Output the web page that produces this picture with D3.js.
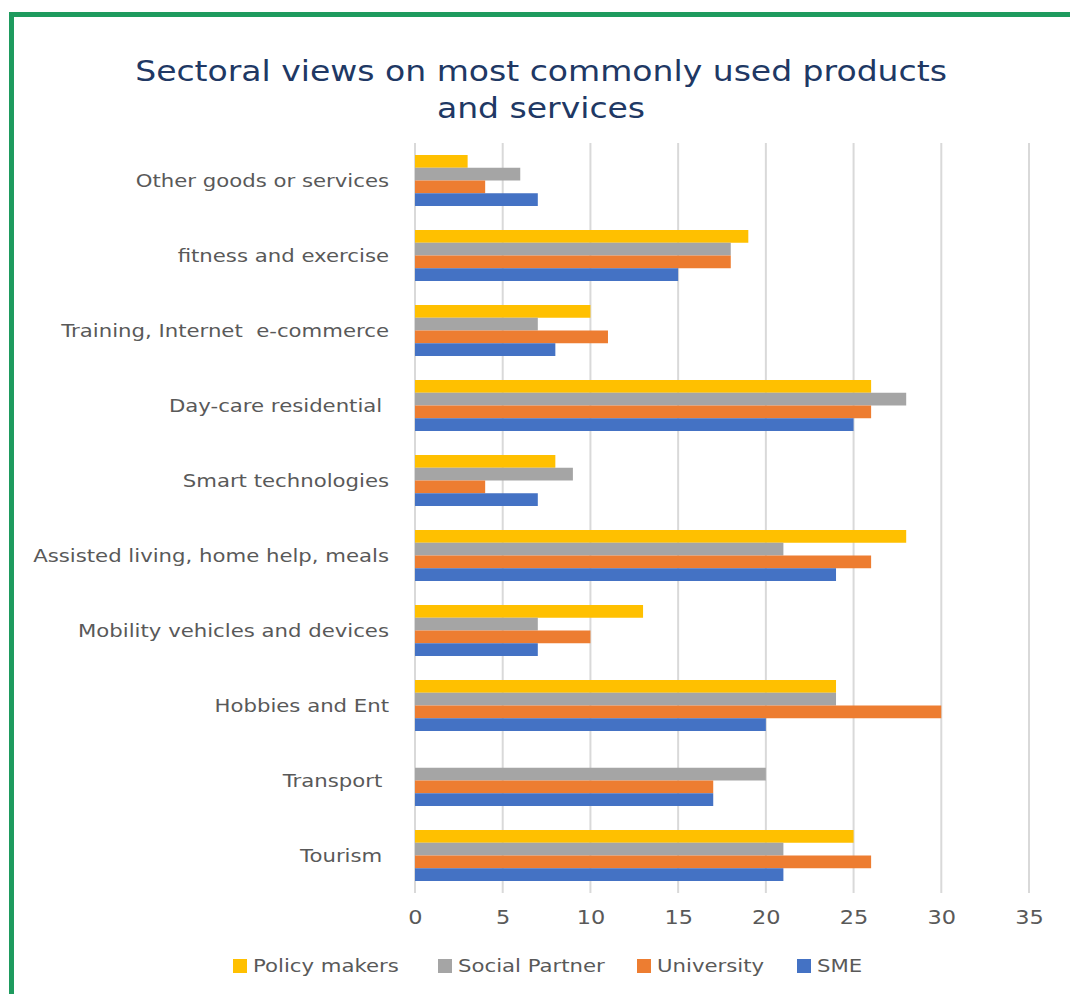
<!DOCTYPE html>
<html>
<head>
<meta charset="utf-8">
<script src="https://cdn.jsdelivr.net/npm/d3@7"></script>
<style>
  html, body { margin: 0; padding: 0; background: #fff; }
  svg { display: block; }
  text { font-family: "DejaVu Sans", sans-serif; }
</style>
</head>
<body>
<svg id="chart" width="1070" height="994"></svg>
<script>
// ---- data ----
const categories = [
  "Other goods or services",
  "fitness and exercise",
  "Training, Internet  e-commerce",
  "Day-care residential ",
  "Smart technologies",
  "Assisted living, home help, meals",
  "Mobility vehicles and devices",
  "Hobbies and Ent",
  "Transport ",
  "Tourism "
];
const seriesNames = ["Policy makers", "Social Partner", "University", "SME"];
const policyMakers  = [3, 19, 10, 26, 8, 28, 13, 24, 0, 25];
const socialPartner = [6, 18, 7, 28, 9, 21, 7, 24, 20, 21];
const university    = [4, 18, 11, 26, 4, 26, 10, 30, 17, 26];
const sme           = [7, 15, 8, 25, 7, 24, 7, 20, 17, 21];
const seriesColors  = ["#FFC000", "#A5A5A5", "#ED7D31", "#4472C4"];
const xTicks = [0, 5, 10, 15, 20, 25, 30, 35];
const titleLines = ["Sectoral views on most commonly used products", "and services"];

const seriesValues = [policyMakers, socialPartner, university, sme];
const SX = 1.18; // horizontal stretch of the reference's text

const svg = d3.select("#chart");
svg.append("rect").attr("width", 1070).attr("height", 994).attr("fill", "#fff");

// green frame (top and left edges visible)
svg.append("rect").attr("x", 9).attr("y", 12).attr("width", 1061).attr("height", 5).attr("fill", "#1E9B5E");
svg.append("rect").attr("x", 9).attr("y", 12).attr("width", 5).attr("height", 982).attr("fill", "#1E9B5E");

// helper: place a text at (px,py) stretched horizontally
function place(sel, px, py) {
  sel.attr("x", 0).attr("y", 0)
     .attr("transform", (d, i) => `translate(${px(d, i)},${py(d, i)}) scale(${SX},1)`);
}

// title
svg.append("g").selectAll("text").data(titleLines).join("text")
  .call(place, () => 541, (d, i) => 81 + i * 37)
  .attr("text-anchor", "middle")
  .attr("fill", "#203864")
  .attr("font-size", 28)
  .text(d => d);

const x = d3.scaleLinear().domain([0, 35]).range([415, 1029]);
const y = d3.scaleBand().domain(categories).range([143, 893]).paddingInner(0.32).paddingOuter(0.16);
const ySub = d3.scaleBand().domain(seriesNames).range([0, y.bandwidth()]);

// gridlines
svg.append("g").selectAll("line").data(xTicks).join("line")
  .attr("x1", d => x(d)).attr("x2", d => x(d))
  .attr("y1", 143).attr("y2", 893)
  .attr("stroke", "#D9D9D9").attr("stroke-width", 2);

// bars
const groups = svg.append("g").selectAll("g").data(categories).join("g")
  .attr("transform", c => `translate(0,${y(c)})`);
groups.selectAll("rect")
  .data((c, ci) => seriesNames.map((s, si) => ({ s, si, v: seriesValues[si][ci] })))
  .join("rect")
  .attr("x", x(0))
  .attr("y", d => ySub(d.s))
  .attr("width", d => x(d.v) - x(0))
  .attr("height", ySub.bandwidth())
  .attr("fill", d => seriesColors[d.si]);

// category labels
svg.append("g").selectAll("text").data(categories).join("text")
  .call(place, () => 389, c => y(c) + y.bandwidth() / 2)
  .attr("dy", "0.35em")
  .attr("text-anchor", "end")
  .attr("fill", "#595959")
  .attr("font-size", 18)
  .style("white-space", "pre")
  .text(c => c);

// x axis labels
const xAxis = d3.axisBottom(x).tickValues(xTicks).tickSize(0).tickPadding(0);
const ax = svg.append("g").attr("transform", "translate(0,910)").call(xAxis);
ax.select(".domain").remove();
ax.selectAll("text").attr("fill", "#595959").attr("font-size", 19)
  .attr("font-family", "DejaVu Sans, sans-serif")
  .attr("transform", `scale(${SX},1)`);

// legend
const legendX = [233, 438, 637, 797];
const leg = svg.append("g").selectAll("g").data(seriesNames).join("g")
  .attr("transform", (d, i) => `translate(${legendX[i]},966)`);
leg.append("rect").attr("x", 0).attr("y", -7).attr("width", 14).attr("height", 14)
  .attr("fill", (d, i) => seriesColors[i]);
leg.append("text").attr("dy", "0.35em")
  .call(place, () => 20, () => 0)
  .attr("fill", "#595959").attr("font-size", 18)
  .text(d => d);
</script>
</body>
</html>
